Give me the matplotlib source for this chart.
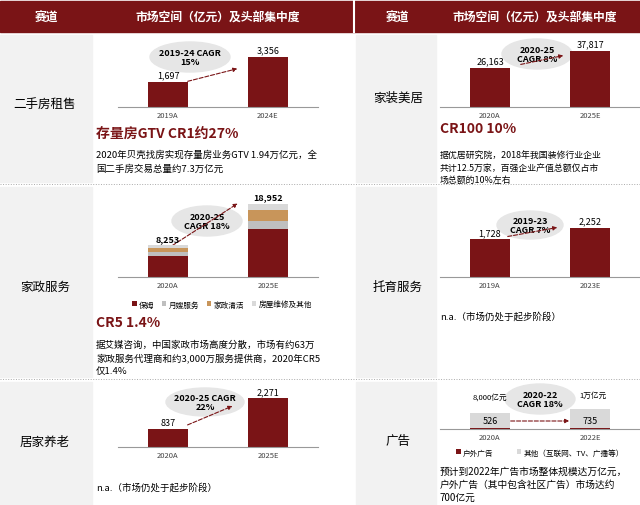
import matplotlib
matplotlib.use('Agg')
import matplotlib.pyplot as plt
from matplotlib.patches import Rectangle, Ellipse

plt.rcParams['font.family'] = ['Noto Sans CJK SC', 'DejaVu Sans']

RED = '#7a1416'
GRAY = '#bfbfbf'
TAN = '#c8955a'
LIGHT = '#d9d9d9'

# data
years_rent = ['2019A', '2024E']
rent = [1697, 3356]
years_home = ['2020A', '2025E']
home = [26163, 37817]
years_dom = ['2020A', '2025E']
dom_nanny = [5400, 12400]
dom_maternity = [1000, 2100]
dom_clean = [1200, 2850]
dom_other = [653, 1602]
dom_total = [8253, 18952]
years_care = ['2019A', '2023E']
care = [1728, 2252]
years_elder = ['2020A', '2025E']
elder = [837, 2271]
years_ad = ['2020A', '2022E']
ad_outdoor = [526, 735]
ad_total = [8000, 10000]

fig = plt.figure(figsize=(6.4, 5.06), dpi=100)
bg = fig.add_axes([0, 0, 1, 1])
bg.set_xlim(0, 640)
bg.set_ylim(506, 0)
bg.axis('off')

# header
bg.add_patch(Rectangle((0, 2), 640, 31, color=RED))
for x, s in [(47, '赛道'), (218, '市场空间（亿元）及头部集中度'), (398, '赛道'), (535, '市场空间（亿元）及头部集中度')]:
    bg.text(x, 18, s, color='white', ha='center', va='center', fontsize=8.5, weight='bold')
bg.plot([354, 354], [2, 33], color='white', lw=1.5)

# label column background
for x0, w in ((0, 92), (356, 80)):
    for y0, y1 in [(36, 183), (188, 378), (383, 506)]:
        bg.add_patch(Rectangle((x0, y0), w, y1 - y0, color='#f2f2f2'))
for y in (185, 380):
    bg.plot([0, 640], [y, y], color='#aaaaaa', lw=0.7, ls=':')

labels = [(45, 104, '二手房租售'), (398, 98, '家装美居'), (45, 287, '家政服务'), (398, 287, '托育服务'),
          (45, 442, '居家养老'), (398, 442, '广告')]
for x, y, s in labels:
    bg.text(x, y, s, ha='center', va='center', fontsize=9)

def bars(rect, cats, vals, top):
    x0, y0, x1, y1 = rect
    ax = fig.add_axes([x0 / 640, 1 - y1 / 506, (x1 - x0) / 640, (y1 - y0) / 506])
    ax.patch.set_alpha(0)
    for sp in ['top', 'right', 'left']:
        ax.spines[sp].set_visible(False)
    ax.spines['bottom'].set_color('#999999')
    ax.set_yticks([])
    ax.set_xlim(-0.5, 1.5)
    ax.set_ylim(0, top)
    ax.set_xticks([0, 1], cats, fontsize=5.5, color='#444444')
    ax.tick_params(axis='x', length=0, pad=3)
    if vals is not None:
        ax.bar([0, 1], vals, width=0.4, color=RED)
        for i, v in enumerate(vals):
            ax.text(i, v + top * 0.04, f'{v:,}', ha='center', va='bottom', fontsize=6.5)
    return ax

def cagr(x, y, w, h, s, a0, a1):
    bg.add_patch(Ellipse((x, y), w, h, color='#e6e6e6', zorder=0))
    bg.text(x, y, s, ha='center', va='center', fontsize=6.5, weight='bold', linespacing=1.1)
    bg.annotate('', xy=a1, xytext=a0, arrowprops=dict(arrowstyle='-|>', color=RED, ls='--', lw=0.8, mutation_scale=6))

# row 1 left
bars((118, 50, 318, 108), years_rent, rent, 3900)
cagr(190, 58, 80, 30, '2019-24 CAGR\n15%', (185, 83), (240, 69))
bg.text(96, 134, '存量房GTV CR1约27%', color=RED, fontsize=10, weight='bold', va='center')
bg.text(96, 162, '2020年贝壳找房实现存量房业务GTV 1.94万亿元，全\n国二手房交易总量约7.3万亿元', fontsize=6.8, va='center', linespacing=1.5)

# row 1 right
bars((440, 45, 640, 108), years_home, home, 42500)
cagr(537, 55, 70, 30, '2020-25\nCAGR 8%', (518, 66), (566, 56))
bg.text(440, 129, 'CR100 10%', color=RED, fontsize=10, weight='bold', va='center')
bg.text(440, 168, '据优居研究院，2018年我国装修行业企业\n共计12.5万家，百强企业产值总额仅占市\n场总额的10%左右', fontsize=6.4, va='center', linespacing=1.5)

# row 2 left stacked
ax = bars((118, 195, 318, 278), years_dom, None, 21500)
b = [0, 0]
for vals, c, name in [(dom_nanny, RED, '保姆'), (dom_maternity, GRAY, '月嫂服务'), (dom_clean, TAN, '家政清洁'), (dom_other, LIGHT, '房屋维修及其他')]:
    ax.bar([0, 1], vals, width=0.4, bottom=b, color=c, label=name)
    b = [b[i] + vals[i] for i in range(2)]
for i, v in enumerate(dom_total):
    ax.text(i, v + 600, f'{v:,}', ha='center', va='bottom', fontsize=6.5, weight='bold')
ax.legend(loc='upper center', bbox_to_anchor=(0.52, -0.2), ncol=4, fontsize=5.5, frameon=False,
          handlelength=0.6, handleheight=0.6, columnspacing=1.0, handletextpad=0.3)
cagr(207, 222, 70, 30, '2020-25\nCAGR 18%', (170, 248), (240, 203))
bg.text(96, 323, 'CR5 1.4%', color=RED, fontsize=10, weight='bold', va='center')
bg.text(96, 358, '据艾媒咨询，中国家政市场高度分散，市场有约63万\n家政服务代理商和约3,000万服务提供商，2020年CR5\n仅1.4%', fontsize=6.8, va='center', linespacing=1.5)

# row 2 right
bars((440, 215, 640, 278), years_care, care, 2900)
cagr(530, 226, 66, 28, '2019-23\nCAGR 7%', (505, 238), (560, 228))
bg.text(440, 317, 'n.a.（市场仍处于起步阶段）', fontsize=6.8, va='center')

# row 3 left
bars((118, 390, 318, 448), years_elder, elder, 2700)
cagr(205, 403, 78, 28, '2020-25 CAGR\n22%', (185, 427), (235, 406))
bg.text(96, 488, 'n.a.（市场仍处于起步阶段）', fontsize=6.8, va='center')

# row 3 right
ax = bars((440, 400, 640, 430), years_ad, None, 15000)
ax.bar([0, 1], ad_total, width=0.4, color=LIGHT, label='其他（互联网、TV、广播等）')
ax.bar([0, 1], ad_outdoor, width=0.4, color=RED, label='户外广告')
for i, v in enumerate(ad_outdoor):
    ax.text(i, 4300, f'{v:,}', ha='center', va='center', fontsize=6.5)
h, l = ax.get_legend_handles_labels()
ax.legend(h[::-1], l[::-1], loc='upper center', bbox_to_anchor=(0.5, -0.5), ncol=2, fontsize=5.5,
          frameon=False, handlelength=0.6, handleheight=0.6, columnspacing=3.0, handletextpad=0.3,
          borderpad=0.1)
bg.text(490, 398, '8,000亿元', fontsize=5.5, ha='center', va='center')
bg.text(593, 396, '1万亿元', fontsize=5.5, ha='center', va='center')
cagr(540, 400, 70, 30, '2020-22\nCAGR 18%', (502, 422), (572, 422))
bg.text(440, 485, '预计到2022年广告市场整体规模达万亿元，\n户外广告（其中包含社区广告）市场达约\n700亿元', fontsize=7, va='center', linespacing=1.35)

fig.savefig('out.png', dpi=100)
